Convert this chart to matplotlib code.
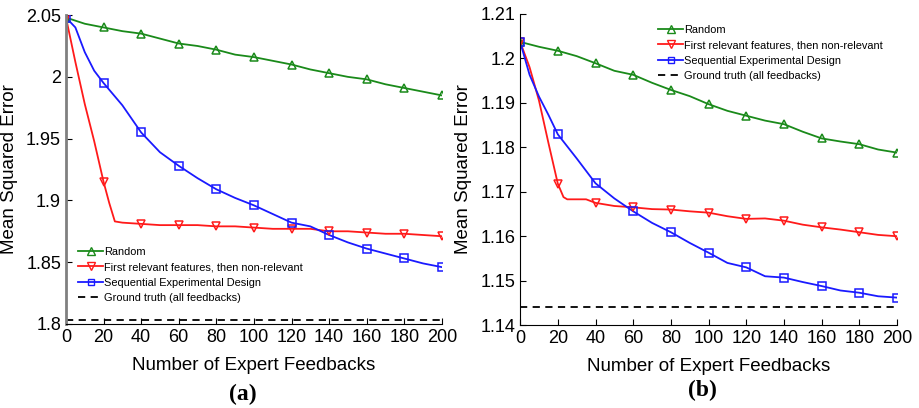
import matplotlib
matplotlib.use("Agg")
import matplotlib.pyplot as plt
from matplotlib.ticker import FormatStrFormatter

plt.rcParams['font.family'] = ['Liberation Sans', 'DejaVu Sans']

# ---- panel (a) ----
xa_rand = [0, 10, 20, 30, 40, 50, 60, 70, 80, 90, 100, 110, 120, 130, 140, 150, 160, 170, 180, 190, 200]
ya_rand = [2.048, 2.043, 2.040, 2.037, 2.035, 2.031, 2.027, 2.025, 2.022, 2.018, 2.016,
           2.013, 2.010, 2.006, 2.003, 2.000, 1.998, 1.994, 1.991, 1.988, 1.985]
xa_first = [0, 5, 10, 15, 20, 23, 26, 30, 40, 50, 60, 70, 80, 90, 100, 110, 120, 130, 140, 150, 160, 170, 180, 190, 200]
ya_first = [2.048, 2.012, 1.978, 1.948, 1.915, 1.898, 1.883, 1.882, 1.881, 1.880, 1.880, 1.880, 1.879,
            1.879, 1.878, 1.877, 1.877, 1.877, 1.875, 1.875, 1.874, 1.873, 1.873, 1.872, 1.871]
xa_seq = [0, 5, 10, 15, 20, 30, 40, 50, 60, 70, 80, 90, 100, 110, 120, 130, 140, 150, 160, 170, 180, 190, 200]
ya_seq = [2.048, 2.040, 2.020, 2.005, 1.995, 1.977, 1.955, 1.939, 1.928, 1.918, 1.909, 1.902, 1.896,
          1.889, 1.882, 1.879, 1.872, 1.866, 1.861, 1.857, 1.853, 1.849, 1.846]
ya_truth = 1.803

# ---- panel (b) ----
xb_rand = [0, 10, 20, 30, 40, 50, 60, 70, 80, 90, 100, 110, 120, 130, 140, 150, 160, 170, 180, 190, 200]
yb_rand = [1.2037, 1.2026, 1.2017, 1.2005, 1.1989, 1.1972, 1.1963, 1.1945, 1.1929, 1.1915, 1.1897,
           1.1882, 1.1871, 1.1860, 1.1852, 1.1835, 1.1820, 1.1813, 1.1807, 1.1795, 1.1788]
xb_first = [0, 5, 10, 15, 20, 23, 25, 30, 35, 40, 50, 60, 70, 80, 90, 100, 110, 120, 130, 140, 150, 160, 170, 180, 190, 200]
yb_first = [1.2037, 1.1980, 1.1905, 1.1810, 1.1718, 1.1688, 1.1683, 1.1683, 1.1683, 1.1675, 1.1668,
            1.1665, 1.1661, 1.1660, 1.1656, 1.1653, 1.1645, 1.1639, 1.1640, 1.1635, 1.1626, 1.1620,
            1.1615, 1.1609, 1.1603, 1.1600]
xb_seq = [0, 5, 10, 15, 20, 30, 40, 50, 60, 70, 80, 90, 100, 110, 120, 130, 140, 150, 160, 170, 180, 190, 200]
yb_seq = [1.2037, 1.1963, 1.1914, 1.1873, 1.1829, 1.1775, 1.1719, 1.1685, 1.1656, 1.1630, 1.1609,
          1.1585, 1.1563, 1.1540, 1.1530, 1.1510, 1.1507, 1.1497, 1.1488, 1.1478, 1.1473, 1.1465, 1.1462]
yb_truth = 1.144

xticks = list(range(0, 201, 20))
labels = ['Random', 'First relevant features, then non-relevant',
          'Sequential Experimental Design', 'Ground truth (all feedbacks)']

GREEN, RED, BLUE = '#1a8a1a', '#ff1a1a', '#1a1aff'

fig = plt.figure(figsize=(9.19, 4.08), dpi=100)
ax1 = fig.add_axes([0.0718, 0.206, 0.409, 0.757])
ax2 = fig.add_axes([0.566, 0.203, 0.410, 0.763])


def every20(xs, ys):
    idx = [i for i, x in enumerate(xs) if x % 20 == 0]
    return [xs[i] for i in idx], [ys[i] for i in idx]


def draw(ax, xr, yr, xf, yf, xs, ys, truth, ylim, yticks, bbox):
    ax.plot(xr, yr, color=GREEN, linewidth=1.3)
    ax.plot(xf, yf, color=RED, linewidth=1.3)
    ax.plot(xs, ys, color=BLUE, linewidth=1.3)
    ax.plot(*every20(xr, yr), '^', color=GREEN, markersize=6, markerfacecolor='none', markeredgewidth=1.1)
    ax.plot(*every20(xf, yf), 'v', color=RED, markersize=6, markerfacecolor='none', markeredgewidth=1.1)
    ax.plot(*every20(xs, ys), 's', color=BLUE, markersize=5.5, markerfacecolor='none', markeredgewidth=1.1)
    ax.plot([0, 200], [truth, truth], '--', color='black', linewidth=1.3, dashes=(4, 3))
    # legend proxies
    l1, = ax.plot([], [], '-^', color=GREEN, markersize=6, markerfacecolor='none', lw=1.3)
    l2, = ax.plot([], [], '-v', color=RED, markersize=6, markerfacecolor='none', lw=1.3)
    l3, = ax.plot([], [], '-s', color=BLUE, markersize=4.5, markerfacecolor='none', lw=1.3)
    l4, = ax.plot([], [], '--', color='black', lw=1.3, dashes=(4, 3))
    ax.legend([l1, l2, l3, l4], labels, loc='upper left', bbox_to_anchor=bbox, frameon=False,
              fontsize=7.9, handlelength=2.3, handletextpad=0.1, labelspacing=0.5, borderaxespad=0,
              borderpad=0)
    ax.set_xlim(0, 200)
    ax.set_ylim(*ylim)
    ax.set_xticks(xticks)
    ax.set_yticks(yticks)
    ax.yaxis.set_major_formatter(FormatStrFormatter('%g'))
    ax.tick_params(direction='in', labelsize=13, length=4, top=False, right=False)
    ax.spines['top'].set_visible(False)
    ax.spines['right'].set_visible(False)
    ax.set_xlabel('Number of Expert Feedbacks', fontsize=13.5, labelpad=8)
    ax.set_ylabel('Mean Squared Error', fontsize=13.5, labelpad=6)


draw(ax1, xa_rand, ya_rand, xa_first, ya_first, xa_seq, ya_seq, ya_truth,
     (1.8, 2.05), [1.8, 1.85, 1.9, 1.95, 2.0, 2.05], (0.032, 0.25))
draw(ax2, xb_rand, yb_rand, xb_first, yb_first, xb_seq, yb_seq, yb_truth,
     (1.14, 1.21), [1.14, 1.15, 1.16, 1.17, 1.18, 1.19, 1.2, 1.21], (0.366, 0.965))
ax1.spines['left'].set_color('#808080')
ax1.spines['left'].set_linewidth(2)

fig.text(0.264, 0.02, '(a)', fontsize=17, fontweight='bold', family='Liberation Serif', ha='center')
fig.text(0.764, 0.03, '(b)', fontsize=17, fontweight='bold', family='Liberation Serif', ha='center')

fig.savefig('out.png', dpi=100)
